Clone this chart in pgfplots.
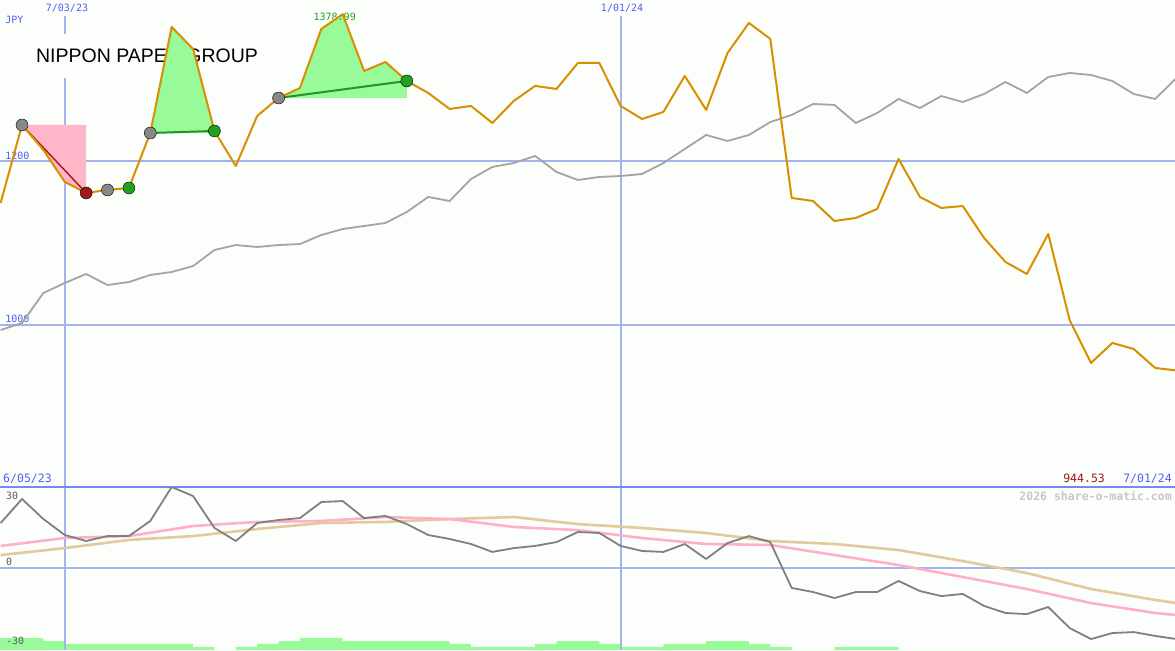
\documentclass[border=0pt]{standalone}
\usepackage{pgfplots}
\pgfplotsset{compat=1.18}
\usepackage{pgfplotstable}
\usepackage{fontspec}
\setmainfont{Liberation Sans}
\newfontfamily\monofont{DejaVu Sans Mono}

\definecolor{bg}{RGB}{252,254,252}
\definecolor{gridc}{RGB}{164,178,240}
\definecolor{bordc}{RGB}{120,136,240}
\definecolor{labblue}{RGB}{80,96,240}
\definecolor{stockc}{RGB}{216,144,0}
\definecolor{indexc}{RGB}{164,164,164}
\definecolor{momc}{RGB}{128,128,128}
\definecolor{pinkc}{RGB}{255,176,200}
\definecolor{tanc}{RGB}{226,202,156}
\definecolor{palegr}{RGB}{152,250,152}
\definecolor{dkgreen}{RGB}{34,150,34}
\definecolor{dkred}{RGB}{160,24,24}
\definecolor{dotgray}{RGB}{136,136,136}
\definecolor{dotgreen}{RGB}{34,160,34}
\definecolor{pinkfill}{RGB}{255,182,200}

% week index (0 = 12 Jun 2023), stock price, benchmark (rebased), momentum
\pgfplotstableread{
k  stock  bench  mom
0  1148.8 993.9  18.75
1  1243.9 1002.4 28.75
2  1213.4 1039.0 20.4
3  1174.4 1051.2 13.75
4  1161.0 1062.2 11.25
5  1164.6 1048.7 13.3
6  1167.1 1052.4 13.3
7  1234.1 1061.0 19.6
8  1363.4 1064.6 33.75
9  1336.6 1071.9 30.0
10 1236.6 1091.4 16.7
11 1193.9 1097.5 11.25
12 1254.9 1095.1 18.75
13 1276.8 1097.5 20.0
14 1289.0 1098.7 20.8
15 1361.0 1109.7 27.5
16 1379.0 1117.0 27.9
17 1309.8 1120.7 20.8
18 1320.7 1124.4 21.7
19 1297.6 1137.8 18.3
20 1282.9 1156.1 13.75
21 1263.4 1151.2 12.1
22 1267.1 1178.0 10.0
23 1246.3 1192.7 6.7
24 1273.2 1197.5 8.3
25 1291.5 1206.1 9.2
26 1287.8 1186.6 10.8
27 1319.5 1176.8 15.0
28 1319.5 1180.5 14.6
29 1267.1 1181.7 9.2
30 1251.2 1184.1 7.1
31 1259.8 1197.5 6.7
32 1303.7 1214.6 10.0
33 1262.2 1231.7 3.75
34 1331.7 1224.4 10.4
35 1368.3 1231.7 13.3
36 1348.8 1247.5 10.8
37 1154.9 1256.1 -8.3
38 1151.2 1269.5 -10.0
39 1126.8 1268.3 -12.5
40 1130.5 1246.3 -10.0
41 1141.5 1258.5 -10.0
42 1202.4 1275.6 -5.4
43 1156.1 1264.6 -9.6
44 1142.7 1279.2 -11.7
45 1145.1 1271.9 -10.8
46 1106.1 1281.7 -15.8
47 1076.8 1296.3 -18.75
48 1062.2 1282.9 -19.2
49 1111.0 1302.4 -16.25
50 1006.1 1307.3 -25.0
51 953.7  1304.8 -29.6
52 978.1  1297.5 -27.1
53 970.7  1281.7 -26.7
54 947.6  1275.6 -28.3
55 944.5  1301.2 -29.6
}\weekly

% moving averages of the momentum
\pgfplotstableread{
k  fast   slow
0  9.2    5.4
3  12.5   8.3
6  13.3   11.7
9  17.5   13.3
12 19.2   16.25
15 19.6   18.75
18 21.25  19.2
21 20.4   20.4
24 17.1   21.25
27 15.8   18.3
30 12.5   16.7
33 10.0   14.6
36 9.6    11.25
39 5.4    10.0
42 1.25   7.5
45 -3.75  2.9
48 -8.75  -2.1
51 -14.6  -8.75
54 -18.75 -13.3
55 -19.6  -14.6
}\averages

\pgfplotsset{
  panel/.style={
    scale only axis, width=1175pt,
    xmin=-0.03, xmax=54.93,
    axis line style={draw=none}, tick style={draw=none},
    xticklabels={}, yticklabels={},
    grid style={gridc, line width=2pt},
  },
}
\tikzset{lab/.style={font=\monofont\fontsize{10}{10}\selectfont, inner sep=0pt}}

\begin{document}
\begin{tikzpicture}
\begin{axis}[panel, name=top, height=487pt,
  ymin=802.4, ymax=1396.3,
  xtick={3,29}, ytick={1000,1200},
  xmajorgrids, ymajorgrids,
  axis background/.style={fill=bg},
]
\node[anchor=west, fill=bg, inner xsep=2pt, minimum height=44pt,
  font=\fontsize{19.5}{20}\selectfont] at (rel axis cs:0.0289,0.885) {NIPPON PAPER GROUP};
\node[lab, fill=bg, inner ysep=4pt, inner xsep=2pt, text=labblue] at (rel axis cs:0.0570,0.9836) {7/03/23};
\node[lab, fill=bg, inner ysep=4pt, inner xsep=2pt, text=labblue] at (rel axis cs:0.5294,0.9836) {1/01/24};
\node[lab, anchor=west, text=labblue] at (rel axis cs:0.0043,0.9589) {JPY};
\node[lab, anchor=west, text=labblue] at (rel axis cs:0.0043,0.6797) {1200};
\node[lab, anchor=west, text=labblue] at (rel axis cs:0.0043,0.3450) {1000};
\node[lab, anchor=west, text=labblue, font=\monofont\fontsize{11.5}{11.5}\selectfont] at (rel axis cs:0.0026,0.0175) {6/05/23};
\node[lab, anchor=east, text=labblue, font=\monofont\fontsize{11.5}{11.5}\selectfont] at (rel axis cs:0.9974,0.0175) {7/01/24};
\node[lab, text=dkred, font=\monofont\fontsize{11.5}{11.5}\selectfont] at (rel axis cs:0.9226,0.0175) {944.53};

% benchmark
\addplot[indexc, line width=1.8pt] table[x=k, y=bench] {\weekly};

% trade zones
\addplot[fill=pinkfill, draw=none] coordinates {(1,1243.9) (2,1213.4) (3,1174.4) (4,1161.0) (4,1243.9)} --cycle;
\addplot[fill=palegr, draw=none] coordinates {(7,1234.1) (8,1363.4) (9,1336.6) (10,1236.6) (10,1234.1)} --cycle;
\addplot[fill=palegr, draw=none] coordinates {(13,1276.8) (14,1289.0) (15,1361.0) (16,1379.0) (17,1309.8) (18,1320.7) (19,1297.6) (19,1276.8)} --cycle;
\addplot[palegr, line width=2pt] coordinates {(5,1164.6) (6,1167.1)};
\addplot[dkred, line width=1.4pt] coordinates {(1,1243.9) (4,1161.0)};
\addplot[dkgreen, line width=2pt] coordinates {(7,1234.1) (10,1236.6)};
\addplot[dkgreen, line width=2pt] coordinates {(13,1276.8) (19,1297.6)};

\node[lab, text=dotgreen, xshift=-8pt, yshift=-3pt] at (axis cs:16,1379.0) {1378.99};

% entry / exit points
\addplot[only marks, mark=*, mark size=6pt, mark options={draw=none, fill=dotgray}]
  coordinates {(1,1243.9) (5,1164.6) (7,1234.1) (13,1276.8)};
\addplot[only marks, mark=*, mark size=6pt, mark options={draw=none, fill=dkred}]
  coordinates {(4,1161.0)};
\addplot[only marks, mark=*, mark size=6pt, mark options={draw=none, fill=dotgreen}]
  coordinates {(6,1167.1) (10,1236.6) (19,1297.6)};

% share price
\addplot[stockc, line width=2pt, line join=round] table[x=k, y=stock] {\weekly};
\end{axis}

% volume-like strip under the lower panel
\begin{axis}[panel, name=vol, height=163pt,
  at={(top.south west)}, anchor=north west,
  ymin=0, ymax=163, xtick=\empty, ytick=\empty,
  axis background/.style={fill=bg},
]
\addplot[const plot mark left, fill=palegr, draw=none] coordinates {
  (-0.03,12) (2,9) (3,6) (9,3) (10,0) (11,3) (12,6) (13,9) (14,12) (16,9)
  (21,6) (22,3) (25,6) (26,9) (28,6) (29,3) (31,6) (33,9) (35,6) (36,3)
  (37,0) (39,3) (42,0) (54.93,0)} \closedcycle;
\end{axis}

\begin{axis}[panel, name=bot, height=163pt,
  at={(top.south west)}, anchor=north west,
  ymin=-34.17, ymax=33.75,
  xtick={3,29}, ytick={0},
  xmajorgrids, ymajorgrids,
  extra y ticks={33.75}, extra y tick labels={},
  extra y tick style={grid style={bordc, line width=2.4pt}},
]
\node[lab, anchor=west, text=momc!70!black] at (rel axis cs:0.0051,0.9448) {30};
\node[lab, anchor=west, text=momc!70!black] at (rel axis cs:0.0051,0.5399) {0};
\node[lab, anchor=west, text=momc!70!black] at (rel axis cs:0.0051,0.0552) {-30};
\node[lab, anchor=east, text=black!22, font=\monofont\bfseries\fontsize{11.5}{11.5}\selectfont] at (rel axis cs:0.9974,0.9448) {2026 share-o-matic.com};

\addplot[tanc, line width=2.6pt] table[x=k, y=slow] {\averages};
\addplot[pinkc, line width=2.6pt] table[x=k, y=fast] {\averages};
\addplot[momc, line width=1.8pt, line join=round] table[x=k, y=mom] {\weekly};
\end{axis}

\pgfresetboundingbox
\path[use as bounding box] (top.north west) rectangle (bot.south east);
\end{tikzpicture}
\end{document}
